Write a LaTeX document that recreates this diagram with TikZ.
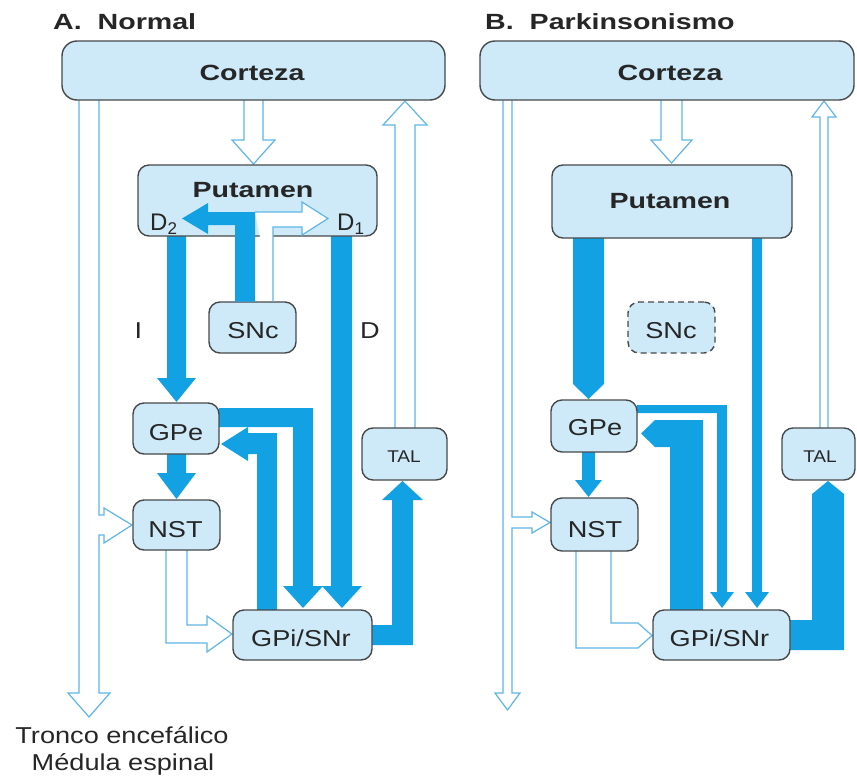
\documentclass[tikz,border=0pt]{standalone}
\usepackage{fontspec}
\setmainfont{Liberation Sans}
\usepackage{graphicx}
\definecolor{arrowblue}{RGB}{18,162,228}
\definecolor{hollowblue}{RGB}{95,182,230}
\definecolor{boxfill}{RGB}{206,234,249}
\definecolor{boxline}{RGB}{70,72,74}
\definecolor{textgray}{RGB}{38,38,38}
\newcommand{\wideB}[1]{\scalebox{1.3}[1]{#1}}
\newcommand{\wideR}[1]{\scalebox{1.18}[1]{#1}}
\begin{document}
\begin{tikzpicture}[x=1pt,y=-1pt,
  box/.style={draw=boxline, fill=boxfill, line width=1.4pt, rounded corners=11pt, inner sep=0pt},
  lostbox/.style={box, dashed, dash pattern=on 6pt off 4pt},
  fat/.style={fill=arrowblue, draw=none},
  hollow/.style={draw=hollowblue, fill=white, line width=1.2pt},
  txt/.style={inner sep=0pt, anchor=base, text=textgray, font=\fontsize{23}{26}\selectfont},
  smalltxt/.style={inner sep=0pt, anchor=base, text=textgray, font=\fontsize{17}{20}\selectfont},
  btxt/.style={inner sep=0pt, anchor=base, text=textgray, font=\fontsize{22}{26}\selectfont\bfseries}]
\useasboundingbox (0,0) rectangle (857,782);

% ================= Panel A: arrows under boxes =================
% Corteza -> Putamen
\draw[hollow] (244,100) -- (244,140) -- (232,140) -- (253.5,164) -- (275,140) -- (263,140) -- (263,100);
% TAL -> Corteza
\draw[hollow] (395,428) -- (395,125) -- (383,125) -- (405,101) -- (427,125) -- (415,125) -- (415,428);
% Corteza -> tronco, branch to NST
\draw[hollow] (79,100) -- (79,693) -- (68,693) -- (89,717) -- (110,693) -- (99,693) -- (99,535)
  -- (104,535) -- (104,543) -- (132,525) -- (104,508) -- (104,515) -- (99,515) -- (99,100);
% D2 -> GPe (indirect)
\fill[fat] (167,236) -- (167,378) -- (157,378) -- (176.5,402) -- (196,378) -- (186,378) -- (186,236) -- cycle;
% D1 -> GPi (direct)
\fill[fat] (331,236) -- (331,586) -- (322,586) -- (342,608) -- (362,586) -- (352,586) -- (352,236) -- cycle;
% GPe -> GPi
\fill[fat] (219,408) -- (313,408) -- (313,586) -- (323,586) -- (303,608) -- (283,586) -- (293,586) -- (293,427) -- (219,427) -- cycle;
% GPi -> GPe
\fill[fat] (277,610) -- (277,433) -- (248,433) -- (248,427) -- (221,444) -- (248,461) -- (248,454) -- (257,454) -- (257,610) -- cycle;
% GPi -> TAL
\fill[fat] (372,625) -- (392,625) -- (392,500) -- (382,500) -- (402.5,481) -- (423,500) -- (413,500) -- (413,645) -- (372,645) -- cycle;
% GPe -> NST
\fill[fat] (167,454) -- (167,473) -- (157,473) -- (176.5,499) -- (196,473) -- (186,473) -- (186,454) -- cycle;
% NST -> GPi
\draw[hollow] (166,550) -- (166,643) -- (207,643) -- (207,652) -- (232,634) -- (207,616) -- (207,625) -- (187,625) -- (187,550);

% ================= Panel B: arrows under boxes =================
\draw[hollow] (661,100) -- (661,140) -- (651,140) -- (671.5,163) -- (692,140) -- (682,140) -- (682,100);
\draw[hollow] (820,428) -- (820,117) -- (812,117) -- (824,101) -- (836,117) -- (828,117) -- (828,428);
\draw[hollow] (503,100) -- (503,693) -- (495,693) -- (507.5,710) -- (520,693) -- (512,693) -- (512,528)
  -- (532,528) -- (532,533) -- (550,522.5) -- (532,512) -- (532,517) -- (512,517) -- (512,100);
% D2 -> GPe (strong)
\fill[fat] (573,238) -- (573,384) -- (588.5,399) -- (604,384) -- (604,238) -- cycle;
% D1 -> GPi (weak)
\fill[fat] (752,238) -- (752,592) -- (745,592) -- (757,608) -- (769,592) -- (762,592) -- (762,238) -- cycle;
% GPe -> GPi (weak)
\fill[fat] (637,405) -- (727,405) -- (727,592) -- (734,592) -- (722,608) -- (710,592) -- (717,592) -- (717,413) -- (637,413) -- cycle;
% GPi -> GPe (strong)
\fill[fat] (703,610) -- (703,420) -- (655,420) -- (641,433.5) -- (655,447) -- (670,447) -- (670,610) -- cycle;
% GPi -> TAL (strong)
\fill[fat] (790,620) -- (812,620) -- (812,494) -- (828,481) -- (844,494) -- (844,650) -- (790,650) -- cycle;
% GPe -> NST (weak)
\fill[fat] (582,452) -- (582,480) -- (575,480) -- (588.5,497) -- (602,480) -- (595,480) -- (595,452) -- cycle;
% NST -> GPi
\draw[hollow] (576,551) -- (576,648) -- (638,648) -- (652,635.5) -- (638,623) -- (611,623) -- (611,551);

% ================= Boxes =================
\node[box, rounded corners=15pt, minimum width=383pt, minimum height=59pt] (cortA) at (253.5,70.5) {};
\node[box, minimum width=239pt, minimum height=71pt] (putA) at (257.5,200.5) {};
\node[box, minimum width=87pt, minimum height=51pt] (sncA) at (252.5,327.5) {};
\node[box, minimum width=86pt, minimum height=51pt] (gpeA) at (176,428.5) {};
\node[box, minimum width=87pt, minimum height=50pt] (nstA) at (176.5,525) {};
\node[box, minimum width=139pt, minimum height=50pt] (gpiA) at (302.5,635) {};
\node[box, minimum width=85pt, minimum height=52pt] (talA) at (404.5,454) {};

\node[box, rounded corners=15pt, minimum width=374pt, minimum height=59pt] (cortB) at (667,70.5) {};
\node[box, minimum width=240pt, minimum height=73pt] (putB) at (672,201.5) {};
\node[lostbox, minimum width=87pt, minimum height=51pt] (sncB) at (671.5,327.5) {};
\node[box, minimum width=86pt, minimum height=52pt] (gpeB) at (594,426) {};
\node[box, minimum width=87pt, minimum height=53pt] (nstB) at (594.5,524.5) {};
\node[box, minimum width=137pt, minimum height=50pt] (gpiB) at (721.5,635) {};
\node[box, minimum width=73pt, minimum height=52pt] (talB) at (818.5,454) {};

% ================= Panel A: SNc dopamine arrows (over Putamen) =================
\draw[hollow] (273,301.5) -- (273,227) -- (302,227) -- (302,235) -- (328,218.5) -- (302,202) -- (302,212) -- (255,212);
\fill[fat] (235,301.5) -- (235,225) -- (208,225) -- (208,234) -- (182,218.5) -- (208,203) -- (208,212) -- (255,212) -- (255,301.5) -- cycle;

% ================= Texts =================
\node[btxt, anchor=base west] (titA) at (53,29) {\wideB{A.\ \ Normal}};
\node[btxt, anchor=base west] (titB) at (485,29) {\wideB{B.\ \ Parkinsonismo}};

\node[btxt] (tcortA) at (252,80) {\wideB{Corteza}};
\node[btxt] (tputA) at (253,197) {\wideB{Putamen}};
\node[txt, anchor=base west, font=\fontsize{24}{26}\selectfont] (d2) at (150,230) {D\raisebox{-4pt}{\fontsize{17}{17}\selectfont 2}};
\node[txt, anchor=base west, font=\fontsize{24}{26}\selectfont] (d1) at (337,230) {D\raisebox{-4pt}{\fontsize{17}{17}\selectfont 1}};
\node[txt] (tsncA) at (253,338) {\wideR{SNc}};
\node[txt] (tI) at (138.5,338) {\wideR{I}};
\node[txt] (tD) at (370,338) {\wideR{D}};
\node[txt] (tgpeA) at (176,440) {\wideR{GPe}};
\node[txt] (tnstA) at (175.5,537) {\wideR{NST}};
\node[txt] (tgpiA) at (301,646) {\wideR{GPi/SNr}};
\node[smalltxt] (ttalA) at (404,462) {\scalebox{1.12}[1]{TAL}};
\node[txt] (tronco) at (122,743) {\wideR{Tronco encefálico}};
\node[txt] (medula) at (123,770) {\wideR{Médula espinal}};

\node[btxt] (tcortB) at (670,80) {\wideB{Corteza}};
\node[btxt] (tputB) at (670,208) {\wideB{Putamen}};
\node[txt] (tsncB) at (671,338) {\wideR{SNc}};
\node[txt] (tgpeB) at (595,435) {\wideR{GPe}};
\node[txt] (tnstB) at (595,537) {\wideR{NST}};
\node[txt] (tgpiB) at (719.5,646) {\wideR{GPi/SNr}};
\node[smalltxt] (ttalB) at (820,462) {\scalebox{1.12}[1]{TAL}};
\end{tikzpicture}
\end{document}
